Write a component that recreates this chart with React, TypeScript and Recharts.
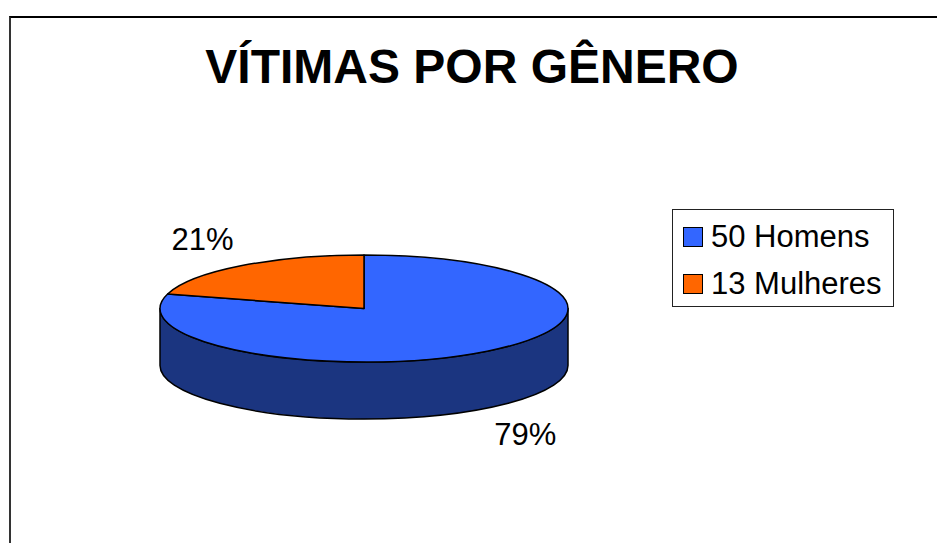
import { PieChart, Pie, Cell, Legend } from "recharts";

const categories = ["Homens", "Mulheres"];
const values = [50, 13];
const colors = ["#3366FF", "#FF6600"];
const sideColors = ["#1B3580", "#8A3A00"];

const data = categories.map((name, i) => ({ name, value: values[i] }));

const FONT = "'Liberation Sans', Arial, sans-serif";
const TILT = 53.5 / 204; // vertical squash of the disc
const DEPTH = 57;

const pt = (cx: number, cy: number, rx: number, ry: number, a: number) => {
  const r = (a * Math.PI) / 180;
  return [cx + rx * Math.cos(r), cy - ry * Math.sin(r)];
};

// top face: elliptical sector
const TopSector = (props: any) => {
  const { cx, cy, outerRadius, startAngle, endAngle, fill } = props;
  const rx = outerRadius;
  const ry = outerRadius * TILT;
  const [x1, y1] = pt(cx, cy, rx, ry, startAngle);
  const [x2, y2] = pt(cx, cy, rx, ry, endAngle);
  const large = Math.abs(endAngle - startAngle) > 180 ? 1 : 0;
  const sweep = endAngle < startAngle ? 1 : 0;
  const d = `M${cx},${cy} L${x1},${y1} A${rx},${ry} 0 ${large} ${sweep} ${x2},${y2} Z`;
  return <path d={d} fill={fill} stroke="#000" strokeWidth={1.5} strokeLinejoin="round" />;
};

// side wall: only the part of the slice facing the viewer (angles -180..0)
const SideSector = (props: any) => {
  const { cx, cy, outerRadius, startAngle, endAngle, fill } = props;
  const rx = outerRadius;
  const ry = outerRadius * TILT;
  const lo = Math.min(startAngle, endAngle);
  const hi = Math.max(startAngle, endAngle);
  const parts: string[] = [];
  for (const k of [-720, -360, 0, 360]) {
    const a1 = Math.max(lo, k - 180);
    const a2 = Math.min(hi, k);
    if (a2 - a1 <= 0.01) continue;
    const [x1, y1] = pt(cx, cy, rx, ry, a1);
    const [x2, y2] = pt(cx, cy, rx, ry, a2);
    parts.push(
      `M${x1},${y1} A${rx},${ry} 0 0 0 ${x2},${y2} L${x2},${y2 + DEPTH} A${rx},${ry} 0 0 1 ${x1},${y1 + DEPTH} Z`
    );
  }
  if (!parts.length) return <g />;
  return <path d={parts.join(" ")} fill={fill} stroke="#000" strokeWidth={1.5} strokeLinejoin="round" />;
};

const renderPct = (props: any) => {
  const { cx, cy, outerRadius, midAngle, percent, index } = props;
  const r = (midAngle * Math.PI) / 180;
  const s = Math.sin(r);
  const x = cx + outerRadius * 1.31 * Math.cos(r);
  const y = cy - outerRadius * TILT * 1.62 * s + (s < 0 ? DEPTH : 0);
  return (
    <text key={index} x={x} y={y} textAnchor="middle" dominantBaseline="central"
      fontFamily={FONT} fontSize={31} fill="#000">
      {Math.round(percent * 100)}%
    </text>
  );
};

const LegendBox = () => (
  <div style={{
    width: 220, height: 96, border: "1px solid #222", background: "#fff",
    fontFamily: FONT, fontSize: 31, color: "#000", boxSizing: "content-box",
  }}>
    {data.map((d, i) => (
      <div key={d.name} style={{ display: "flex", alignItems: "center", height: 47, marginTop: i === 0 ? 3 : 0 }}>
        <span style={{
          display: "inline-block", width: 18, height: 18, background: colors[i],
          border: "1.5px solid #000", marginLeft: 10, marginRight: 8,
        }} />
        <span style={{ lineHeight: 1 }}>{d.value} {d.name}</span>
      </div>
    ))}
  </div>
);

export default function App() {
  return (
    <div style={{ position: "absolute", left: 0, top: 0, width: 937, height: 543, overflow: "hidden", background: "#fff" }}>
      <div style={{
        position: "absolute", left: 9, top: 16, width: 1000, height: 600,
        borderLeft: "2px solid #333", borderTop: "2px solid #000",
      }} />
      <div style={{ position: "absolute", left: 0, top: 0 }}>
        <PieChart width={937} height={543} margin={{ top: 0, right: 0, bottom: 0, left: 0 }}>
          <text x={472} y={83} textAnchor="middle" fontFamily={FONT} fontSize={48} fontWeight="bold" fill="#000">
            VÍTIMAS POR GÊNERO
          </text>
          <Pie data={data} dataKey="value" nameKey="name" cx={364} cy={308.5} outerRadius={204}
            startAngle={90} endAngle={-270} isAnimationActive={false} legendType="none"
            shape={SideSector} label={false}>
            {data.map((d, i) => <Cell key={d.name} fill={sideColors[i]} />)}
          </Pie>
          <Pie data={data} dataKey="value" nameKey="name" cx={364} cy={308.5} outerRadius={204}
            startAngle={90} endAngle={-270} isAnimationActive={false}
            shape={TopSector} label={renderPct} labelLine={false}>
            {data.map((d, i) => <Cell key={d.name} fill={colors[i]} />)}
          </Pie>
          <Legend layout="vertical" align="right" verticalAlign="middle" content={<LegendBox />}
            wrapperStyle={{ position: "absolute", left: 672, top: 209, width: 222 }} />
        </PieChart>
      </div>
    </div>
  );
}
